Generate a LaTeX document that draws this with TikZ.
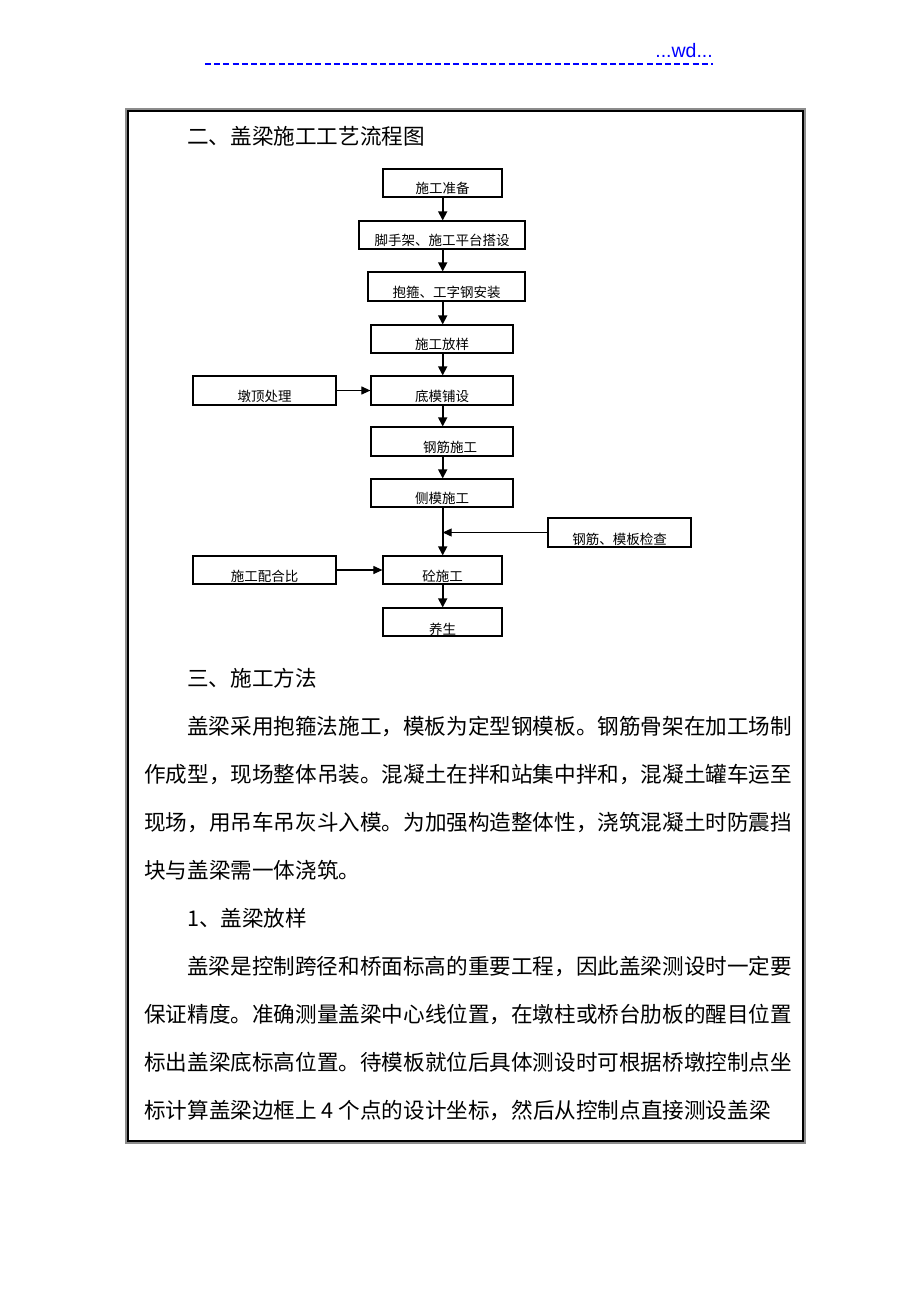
\documentclass[tikz,border=0pt]{standalone}
\usepackage{fontspec}
\newfontfamily\cjk{Noto Sans CJK SC}
\newfontfamily\arialf{Liberation Sans}
\usetikzlibrary{arrows.meta}
\definecolor{hdrblue}{RGB}{0,0,255}
\definecolor{shadowgray}{RGB}{140,140,140}
\begin{document}
\begin{tikzpicture}[x=1pt,y=-1pt,
  bx/.style={draw, line width=1.2pt, inner sep=0pt, text depth=3.5pt,
    font=\cjk\fontsize{13.5}{13.5}\selectfont},
  arr/.style={line width=1.6pt, -{Triangle[length=9pt,width=9pt]}},
  harr/.style={line width=1.1pt, -{Triangle[length=9pt,width=8pt]}},
  body/.style={anchor=base west, inner sep=0pt, font=\cjk\fontsize{21.6}{21.6}\selectfont}]
\useasboundingbox (0,0) rectangle (920,1302);
% header
\node[anchor=base east, inner sep=0pt, text=hdrblue, font=\arialf\fontsize{19.5}{19.5}\selectfont] (hdr) at (713,57) {...wd...};
\draw[hdrblue, line width=1.5pt, dash pattern=on 6pt off 3.2pt] (205,64) -- (713,64);
% frame
\draw[shadowgray, line width=2.5pt] (126.5,109.5) rectangle (804.5,1142.5);
\draw[black, line width=1.2pt] (128,111) rectangle (803,1141);
% title
\node[body] (title) at (187,144) {二、盖梁施工工艺流程图};
% flowchart
\coordinate (cx) at (442.7,0);
\node[bx, minimum width=119pt, minimum height=28pt, text height=24.5pt] (a) at (442.5,183) {施工准备};
\node[bx, minimum width=166pt, minimum height=28pt, text height=24.5pt] (b) at (442,235) {脚手架、施工平台搭设};
\node[bx, minimum width=157pt, minimum height=29pt, text height=25.5pt] (c) at (446.5,286.5) {抱箍、工字钢安装};
\node[bx, minimum width=142pt, minimum height=28pt, text height=24.5pt] (d) at (442,339) {施工放样};
\node[bx, minimum width=142pt, minimum height=29pt, text height=25.5pt] (e) at (442,390.5) {底模铺设};
\node[bx, minimum width=143pt, minimum height=29pt, text height=25.5pt] (f) at (264.5,390.5) {墩顶处理};
\node[bx, minimum width=142pt, minimum height=29pt, text height=25.5pt] (g) at (442,441.5) {\hspace{16pt}钢筋施工};
\node[bx, minimum width=142pt, minimum height=28pt, text height=24.5pt] (h) at (442,493) {侧模施工};
\node[bx, minimum width=143pt, minimum height=29pt, text height=26.5pt, text depth=2.5pt] (i) at (619.5,532.5) {钢筋、模板检查};
\node[bx, minimum width=143pt, minimum height=28pt, text height=25.5pt, text depth=2.5pt] (j) at (264.5,570) {施工配合比};
\node[bx, minimum width=119pt, minimum height=28pt, text height=25.5pt, text depth=2.5pt] (k) at (442.5,570) {砼施工};
\node[bx, minimum width=119pt, minimum height=28pt, text height=26pt, text depth=2pt] (l) at (442.5,622) {养生};
% connectors
\draw[arr] (a.south -| cx) -- (b.north -| cx);
\draw[arr] (b.south -| cx) -- (c.north -| cx);
\draw[arr] (c.south -| cx) -- (d.north -| cx);
\draw[arr] (d.south -| cx) -- (e.north -| cx);
\draw[harr] (f.east) -- (e.west);
\draw[arr] (e.south -| cx) -- (g.north -| cx);
\draw[arr] (g.south -| cx) -- (h.north -| cx);
\draw[arr] (h.south -| cx) -- (k.north -| cx);
\draw[harr] (i.west) -- (i.west -| cx);
\draw[harr] (j.east) -- (k.west);
\draw[arr] (k.south -| cx) -- (l.north -| cx);
% body text
\node[body] (s3) at (187,686) {三、施工方法};
\node[body] (p1) at (187,734) {盖梁采用抱箍法施工，模板为定型钢模板。钢筋骨架在加工场制};
\node[body] (p2) at (144,782) {作成型，现场整体吊装。混凝土在拌和站集中拌和，混凝土罐车运至};
\node[body] (p3) at (144,830) {现场，用吊车吊灰斗入模。为加强构造整体性，浇筑混凝土时防震挡};
\node[body] (p4) at (144,878) {块与盖梁需一体浇筑。};
\node[body] (s31) at (187,926) {1、盖梁放样};
\node[body] (q1) at (187,974) {盖梁是控制跨径和桥面标高的重要工程，因此盖梁测设时一定要};
\node[body] (q2) at (144,1022) {保证精度。准确测量盖梁中心线位置，在墩柱或桥台肋板的醒目位置};
\node[body] (q3) at (144,1070) {标出盖梁底标高位置。待模板就位后具体测设时可根据桥墩控制点坐};
\node[body] (q4) at (144,1118) {标计算盖梁边框上 4 个点的设计坐标，然后从控制点直接测设盖梁};
\end{tikzpicture}
\end{document}
